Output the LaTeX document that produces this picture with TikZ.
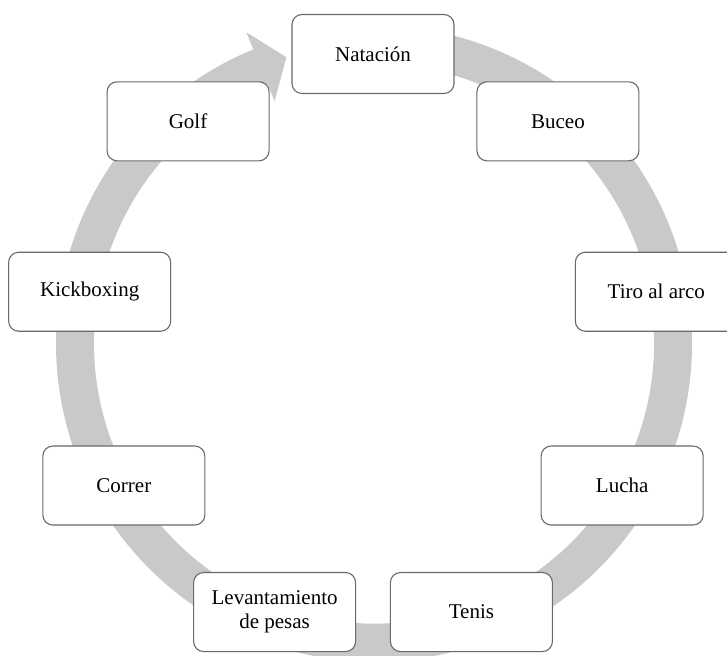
\documentclass[tikz,border=0pt]{standalone}
\usepackage{fontspec}
\setmainfont{Liberation Serif}
\definecolor{bandgray}{RGB}{201,201,201}
\definecolor{boxline}{RGB}{105,105,105}
\begin{document}
\begin{tikzpicture}[x=1pt,y=1pt,
  item/.style={draw=boxline, line width=1.1pt, fill=white, rounded corners=10pt,
    minimum width=162pt, minimum height=79pt, align=center,
    font=\fontsize{21}{24}\selectfont, inner sep=2pt}]
\useasboundingbox (0,0) rectangle (727,655);
\clip (0,0) rectangle (727,655);
\coordinate (bc) at (374,311.4);
\coordinate (nc) at (373,313.3);
% circular arrow band
\fill[bandgray] ([shift={(bc)}]90:318pt) arc[start angle=90,end angle=-247.7,radius=318pt]
  -- ([shift={(bc)}]-247.7:336.5pt)
  -- ([shift={(bc)}]-253:299.5pt)
  -- ([shift={(bc)}]-247.7:262pt)
  -- ([shift={(bc)}]-247.7:280pt)
  arc[start angle=-247.7,end angle=90,radius=280pt] -- cycle;
% nodes
\node[item] (n1) at ([shift={(nc)}]90:287.7pt) {Natación};
\node[item] (n2) at ([shift={(nc)}]50:287.7pt) {Buceo};
\node[item] (n3) at ([shift={(nc)}]10:287.7pt) {Tiro al arco};
\node[item] (n4) at ([shift={(nc)}]-30:287.7pt) {Lucha};
\node[item] (n5) at ([shift={(nc)}]-70:287.7pt) {Tenis};
\node[item] (n6) at ([shift={(nc)}]-110:287.7pt) {Levantamiento\\de pesas};
\node[item] (n7) at ([shift={(nc)}]-150:287.7pt) {Correr};
\node[item] (n8) at ([shift={(nc)}]170:287.7pt) {Kickboxing};
\node[item] (n9) at ([shift={(nc)}]130:287.7pt) {Golf};
\end{tikzpicture}
\end{document}
